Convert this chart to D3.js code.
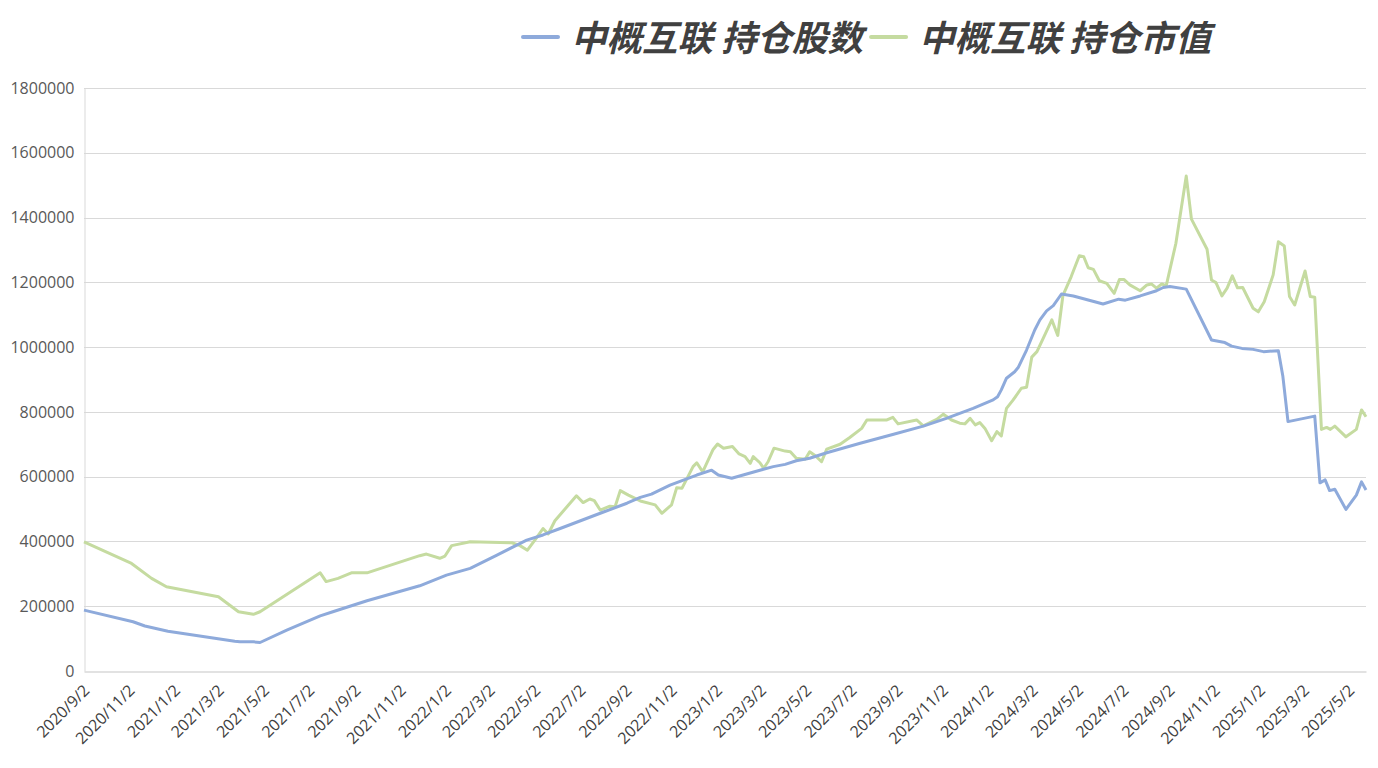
<!DOCTYPE html>
<html><head><meta charset="utf-8">
<script src="https://cdn.jsdelivr.net/npm/d3@7/dist/d3.min.js"></script>
<style>
html,body{margin:0;padding:0;background:#fff;}
svg{display:block;}
</style></head>
<body>
<svg id="chart" width="1378" height="768"></svg>
<script>
// ---- data ----
const seriesNames = ["中概互联 持仓股数", "中概互联 持仓市值"];
const tickLabels = ["2020/9/2","2020/11/2","2021/1/2","2021/3/2","2021/5/2","2021/7/2","2021/9/2","2021/11/2","2022/1/2","2022/3/2","2022/5/2","2022/7/2","2022/9/2","2022/11/2","2023/1/2","2023/3/2","2023/5/2","2023/7/2","2023/9/2","2023/11/2","2024/1/2","2024/3/2","2024/5/2","2024/7/2","2024/9/2","2024/11/2","2025/1/2","2025/3/2","2025/5/2"];
const yTicks = [0,200000,400000,600000,800000,1000000,1200000,1400000,1600000,1800000];

const sharesDates = ["2020-09-02","2020-11-07","2020-11-23","2020-12-24","2021-03-24","2021-03-31","2021-04-18","2021-04-27","2021-06-02","2021-07-17","2021-08-03","2021-09-18","2021-11-28","2022-01-03","2022-02-04","2022-03-12","2022-04-21","2022-05-13","2022-06-05","2022-07-29","2022-09-03","2022-09-21","2022-10-06","2022-10-31","2022-12-06","2022-12-26","2023-01-04","2023-01-22","2023-03-01","2023-03-19","2023-04-04","2023-04-19","2023-05-07","2023-05-30","2023-07-14","2023-08-28","2023-10-07","2023-11-07","2023-12-13","2024-01-09","2024-01-15","2024-01-20","2024-01-27","2024-02-07","2024-02-12","2024-02-23","2024-03-05","2024-03-12","2024-03-21","2024-03-30","2024-04-10","2024-04-26","2024-06-05","2024-06-26","2024-07-05","2024-07-25","2024-08-16","2024-08-25","2024-09-03","2024-09-25","2024-10-29","2024-11-16","2024-11-25","2024-12-09","2024-12-24","2025-01-07","2025-01-27","2025-02-02","2025-02-09","2025-03-17","2025-03-24","2025-03-31","2025-04-06","2025-04-13","2025-04-28","2025-05-12","2025-05-19","2025-05-25"];
const sharesValues = [188000,152000,139000,123000,92000,90000,90000,88000,126000,170000,183000,217000,263000,296000,317000,358000,404000,420000,440000,487000,518000,536000,546000,574000,605000,620000,605000,595000,620000,631000,638000,649000,657000,674000,703000,731000,756000,780000,811000,837000,847000,868000,904000,924000,938000,991000,1053000,1084000,1112000,1128000,1164000,1158000,1133000,1148000,1145000,1158000,1174000,1184000,1187000,1179000,1022000,1014000,1003000,996000,993000,986000,989000,911000,770000,787000,581000,590000,557000,561000,499000,543000,584000,559000];

const valueDates = ["2020-09-02","2020-11-05","2020-12-02","2020-12-22","2021-03-02","2021-03-29","2021-04-18","2021-04-27","2021-07-17","2021-07-25","2021-08-10","2021-08-28","2021-09-18","2021-11-28","2021-12-07","2021-12-25","2022-01-01","2022-01-10","2022-02-04","2022-04-01","2022-04-12","2022-04-22","2022-05-02","2022-05-13","2022-05-20","2022-05-29","2022-06-27","2022-07-06","2022-07-15","2022-07-21","2022-07-29","2022-08-11","2022-08-18","2022-08-25","2022-09-05","2022-09-21","2022-10-11","2022-10-20","2022-11-02","2022-11-09","2022-11-16","2022-12-01","2022-12-06","2022-12-14","2022-12-28","2023-01-03","2023-01-11","2023-01-23","2023-02-01","2023-02-09","2023-02-16","2023-02-20","2023-03-01","2023-03-06","2023-03-12","2023-03-20","2023-04-04","2023-04-11","2023-04-19","2023-05-01","2023-05-07","2023-05-16","2023-05-23","2023-05-30","2023-06-17","2023-06-30","2023-07-16","2023-07-23","2023-08-19","2023-08-27","2023-09-03","2023-09-28","2023-10-07","2023-10-25","2023-11-03","2023-11-14","2023-11-25","2023-12-02","2023-12-09","2023-12-16","2023-12-22","2023-12-29","2024-01-07","2024-01-14","2024-01-20","2024-01-27","2024-02-05","2024-02-16","2024-02-23","2024-03-01","2024-03-08","2024-03-17","2024-03-28","2024-04-05","2024-04-12","2024-04-23","2024-05-04","2024-05-10","2024-05-16","2024-05-23","2024-05-31","2024-06-10","2024-06-20","2024-06-27","2024-07-03","2024-07-11","2024-07-25","2024-08-03","2024-08-09","2024-08-16","2024-08-23","2024-08-29","2024-09-11","2024-09-25","2024-10-02","2024-10-23","2024-10-29","2024-11-04","2024-11-12","2024-11-19","2024-11-26","2024-12-03","2024-12-10","2024-12-24","2024-12-31","2025-01-08","2025-01-20","2025-01-27","2025-02-04","2025-02-11","2025-02-18","2025-03-04","2025-03-11","2025-03-17","2025-03-26","2025-04-02","2025-04-07","2025-04-13","2025-04-28","2025-05-12","2025-05-19","2025-05-25"];
const valueValues = [399000,332000,286000,260000,229000,183000,175000,183000,303000,276000,286000,303000,303000,356000,361000,348000,355000,387000,399000,396000,387000,373000,404000,440000,423000,464000,541000,520000,531000,526000,497000,509000,507000,557000,543000,525000,513000,487000,513000,566000,564000,631000,643000,615000,684000,701000,688000,693000,670000,662000,641000,662000,643000,626000,646000,688000,679000,677000,657000,654000,677000,662000,646000,685000,700000,721000,749000,775000,775000,783000,763000,775000,757000,777000,793000,775000,765000,763000,780000,760000,767000,749000,711000,739000,726000,811000,837000,873000,876000,969000,986000,1030000,1084000,1036000,1160000,1217000,1282000,1279000,1245000,1240000,1205000,1197000,1166000,1209000,1209000,1192000,1174000,1192000,1195000,1182000,1195000,1189000,1320000,1528000,1395000,1302000,1207000,1199000,1158000,1182000,1220000,1183000,1184000,1120000,1109000,1140000,1223000,1325000,1312000,1156000,1130000,1235000,1156000,1154000,746000,752000,746000,756000,723000,746000,806000,785000];

// ---- chart ----
const W = 1378, H = 768;
const M = {left: 84, right: 12, top: 88, bottom: 97};
const svg = d3.select("#chart");
const parseISO = d3.timeParse("%Y-%m-%d");
const parseTick = d3.timeParse("%Y/%m/%d");

const shares = sharesDates.map((d, i) => ({date: parseISO(d), v: sharesValues[i]}));
const values = valueDates.map((d, i) => ({date: parseISO(d), v: valueValues[i]}));

const allDates = shares.map(d => d.date).concat(values.map(d => d.date));
const x = d3.scaleTime().domain(d3.extent(allDates)).range([M.left, W - M.right]);
const y = d3.scaleLinear().domain([0, 1800000]).range([H - M.bottom, M.top]);

const fontNum = "'Open Sans', 'Noto Sans', sans-serif";

// gridlines
svg.append("g").selectAll("line").data(yTicks.filter(t => t > 0)).join("line")
  .attr("x1", M.left).attr("x2", W - M.right)
  .attr("y1", d => Math.round(y(d)) + 0.5).attr("y2", d => Math.round(y(d)) + 0.5)
  .attr("stroke", "#d9d9d9").attr("stroke-width", 1);

// y axis
const yAxis = svg.append("g").attr("transform", `translate(${M.left + 0.5},0)`)
  .call(d3.axisLeft(y).tickValues(yTicks).tickSize(0).tickPadding(10).tickFormat(d3.format("d")));
yAxis.select(".domain").attr("stroke", "#d9d9d9");
yAxis.selectAll("text").attr("font-family", fontNum).attr("font-size", 16).attr("fill", "#595959");

// x axis
const tickDates = tickLabels.map(t => parseTick(t));
const xAxis = svg.append("g").attr("transform", `translate(0,${Math.round(y(0)) + 0.5})`)
  .call(d3.axisBottom(x).tickValues(tickDates).tickSize(0).tickFormat((d, i) => tickLabels[i]));
xAxis.select(".domain").attr("stroke", "#d9d9d9").attr("stroke-width", 1.5);
xAxis.selectAll("text")
  .attr("font-family", fontNum).attr("font-size", 16).attr("fill", "#404040")
  .attr("text-anchor", "end")
  .attr("dy", 0).attr("y", 0)
  .attr("transform", "translate(6,20) rotate(-45)");

// lines
const line = d3.line().x(d => x(d.date)).y(d => y(d.v));
const colors = ["#8eaadb", "#c5dba0"];
svg.append("path").datum(values).attr("d", line)
  .attr("fill", "none").attr("stroke", colors[1]).attr("stroke-width", 3).attr("stroke-linejoin", "round");
svg.append("path").datum(shares).attr("d", line)
  .attr("fill", "none").attr("stroke", colors[0]).attr("stroke-width", 3).attr("stroke-linejoin", "round");

// legend
const lg = svg.append("g");
let lx = 523;
seriesNames.forEach((name, i) => {
  lg.append("line").attr("x1", lx).attr("x2", lx + 35).attr("y1", 37).attr("y2", 37)
    .attr("stroke", colors[i]).attr("stroke-width", 4).attr("stroke-linecap", "round");
  const t = lg.append("text").attr("x", lx + 48).attr("y", 51)
    .attr("font-family", "'Noto Sans CJK SC', sans-serif").attr("font-weight", "bold")
    .attr("font-style", "italic").attr("font-size", 35.5).attr("fill", "#404040").text(name);
  lx = lx + 48 + t.node().getComputedTextLength() + 8;
});
</script>
</body></html>
